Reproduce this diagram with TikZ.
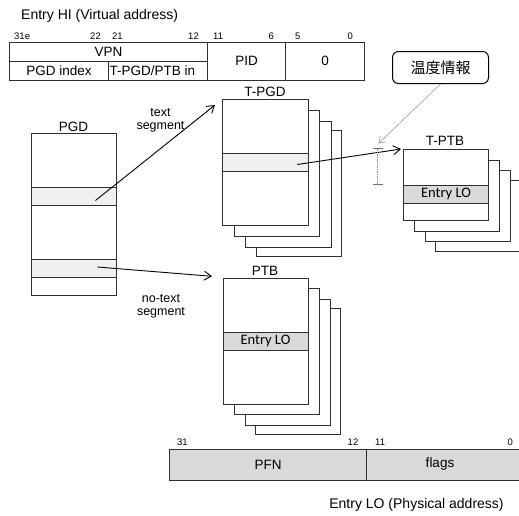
\documentclass[tikz,border=0pt]{standalone}
\usepackage{fontspec}
\setmainfont{Liberation Sans}
\newfontfamily\cjkfont{Noto Sans CJK JP}
\newfontfamily\calfont{Carlito}
\usetikzlibrary{arrows.meta}
\definecolor{bandlight}{HTML}{F0F0F0}
\definecolor{bandgray}{HTML}{D9D9D9}
\definecolor{edge}{HTML}{303030}
\begin{document}
\begin{tikzpicture}[x=1pt,y=-1pt,
  lbl/.style={font=\fontsize{13.5}{13.5}\selectfont, inner sep=0pt, align=center},
  seglbl/.style={font=\fontsize{12.5}{12.6}\selectfont, inner sep=0pt, align=center},
  ttl/.style={font=\fontsize{14}{14}\selectfont, inner sep=0pt},
  bit/.style={font=\fontsize{9.5}{9.5}\selectfont, inner sep=0pt},
  cell/.style={draw=edge, line width=1pt, rectangle, inner sep=0pt, anchor=north west},
  celltxt/.style={font=\fontsize{13.5}{12}\selectfont},
  pagebox/.style={cell, fill=white},
  lightband/.style={cell, fill=bandlight},
  entryband/.style={cell, fill=bandgray, font=\calfont\fontsize{14.5}{14.5}\selectfont},
  arr/.style={draw=black, line width=0.9pt, -{Straight Barb[length=7pt,width=9pt]}},
  notearr/.style={draw=black!45, line width=0.5pt, -{Straight Barb[length=6pt,width=8pt]}},
  ]
\useasboundingbox (0,0) rectangle (519,515);
\clip (0,0) rectangle (519,515);

% ---- Entry HI table ----
\node[ttl, anchor=west] (hititle) at (21,16) {Entry HI (Virtual address)};
\node[cell, celltxt, minimum width=198pt, minimum height=19pt] (vpn) at (9,42) {VPN};
\node[cell, celltxt, minimum width=99pt, minimum height=18.5pt] (pgdidx) at (9,61) {PGD index};
\node[cell, minimum width=99pt, minimum height=18.5pt] (tidx) at (108,61) {};
\node[lbl, anchor=west] (tidxtxt) at ([xshift=1.5pt]tidx.west) {T-PGD/PTB in};
\node[cell, celltxt, minimum width=78pt, minimum height=37.5pt] (pid) at (207,42) {PID};
\node[cell, celltxt, minimum width=79pt, minimum height=37.5pt] (zero) at (285,42) {0};
\node[bit, anchor=west] (b31) at (14,36.5) {31e};
\node[bit, anchor=east] (b22) at (101,36.5) {22};
\node[bit, anchor=west] (b21) at (112,36.5) {21};
\node[bit, anchor=east] (b12) at (199,36.5) {12};
\node[bit, anchor=west] (b11) at (213,36.5) {11};
\node[bit, anchor=east] (b6) at (274,36.5) {6};
\node[bit, anchor=west] (b5) at (295,36.5) {5};
\node[bit, anchor=east] (b0) at (353,36.5) {0};

% ---- PGD ----
\node[lbl] (pgdlbl) at (73.5,127) {PGD};
\node[pagebox, minimum width=85pt, minimum height=162pt] (pgd) at (31,133) {};
\node[lightband, minimum width=85pt, minimum height=18pt] (pgdA) at (31,187.3) {};
\node[lightband, minimum width=85pt, minimum height=18pt] (pgdB) at (31,259) {};

% ---- T-PGD stack ----
\foreach \k/\dx/\dy in {3/33.5/31,2/23/21.5,1/11.5/11}
  \node[pagebox, minimum width=85.5pt, minimum height=126pt] (tpgd\k) at (222+\dx,99+\dy) {};
\node[pagebox, minimum width=85.5pt, minimum height=126pt] (tpgd) at (222,99) {};
\node[lightband, minimum width=85.5pt, minimum height=18pt] (tpgdband) at (222,153.3) {};
\node[lbl] (tpgdlbl) at (265,92) {T-PGD};

% ---- PTB stack ----
\foreach \k/\dx/\dy in {3/32/30,2/22.5/21,1/11.5/10}
  \node[pagebox, minimum width=85pt, minimum height=126pt] (ptb\k) at (222.5+\dx,278.3+\dy) {};
\node[pagebox, minimum width=85pt, minimum height=126pt] (ptb) at (222.5,278.3) {};
\node[entryband, minimum width=85pt, minimum height=18.5pt] (ptbband) at (222.5,331.7) {Entry LO};
\node[lbl] (ptblbl) at (265,271) {PTB};

% ---- T-PTB stack ----
\foreach \k/\dx/\dy in {3/32/30.5,2/22/21,1/11.3/10.5}
  \node[pagebox, minimum width=85pt, minimum height=71pt] (tptb\k) at (403+\dx,149+\dy) {};
\node[pagebox, minimum width=85pt, minimum height=71pt] (tptb) at (403,149) {};
\node[entryband, minimum width=85pt, minimum height=18pt] (tptbband) at (403,184.7) {Entry LO};
\node[lbl] (tptblbl) at (445,141) {T-PTB};

% ---- arrows ----
\coordinate (s1) at ([shift={(21.5,3.7)}]pgdA.center);
\coordinate (e1) at ([shift={(-7,6)}]tpgd.north west);
\draw[arr] (s1) -- (e1);
\node[seglbl] (textseg) at (160.5,120.5) {text\\segment};

\coordinate (s2) at ([shift={(23.5,-1.5)}]pgdB.center);
\coordinate (e2) at ([shift={(-10.5,-2)}]ptb.north west);
\draw[arr] (s2) -- (e2);
\node[seglbl] (notextseg) at (161,306.5) {no-text\\segment};

\coordinate (s3) at ([shift={(32,1.7)}]tpgdband.center);
\coordinate (e3) at ([shift={(-2,0)}]tptb.north west);
\draw[arr] (s3) -- (e3);

% ---- dimension marker and note ----
\coordinate (dimtop) at (377.5,148.5);
\coordinate (dimbot) at (377.5,184.5);
\draw[black!45, line width=0.7pt, densely dotted] (dimtop) -- (dimbot);
\draw[black!55, line width=0.8pt] ([xshift=-5pt]dimtop) -- ([xshift=5pt]dimtop)
  ([xshift=-5pt]dimbot) -- ([xshift=5pt]dimbot);
\node[draw=black, line width=1pt, rounded corners=6pt, fill=white, minimum width=96pt, minimum height=32pt,
  inner sep=0pt, font=\cjkfont\fontsize{15}{15}\selectfont] (note) at (440.5,67.5) {温度情報};
\draw[notearr] (note.south) -- ([shift={(1,-5)}]dimtop);

% ---- Entry LO bar ----
\node[cell, celltxt, fill=bandgray, minimum width=197pt, minimum height=31pt] (pfn) at (169,448.5) {PFN};
\node[cell, fill=bandgray, minimum width=154pt, minimum height=31pt] (flags) at (366,448.5) {};
\node[lbl] (flagstxt) at (440,464) {flags};
\node[bit, anchor=west] (c31) at (177,442.5) {31};
\node[bit, anchor=east] (c12) at (358.5,442.5) {12};
\node[bit, anchor=west] (c11) at (375,442.5) {11};
\node[bit, anchor=east] (c0) at (513,442.5) {0};
\node[ttl] (lotitle) at (416.5,505) {Entry LO (Physical address)};
\end{tikzpicture}
\end{document}
